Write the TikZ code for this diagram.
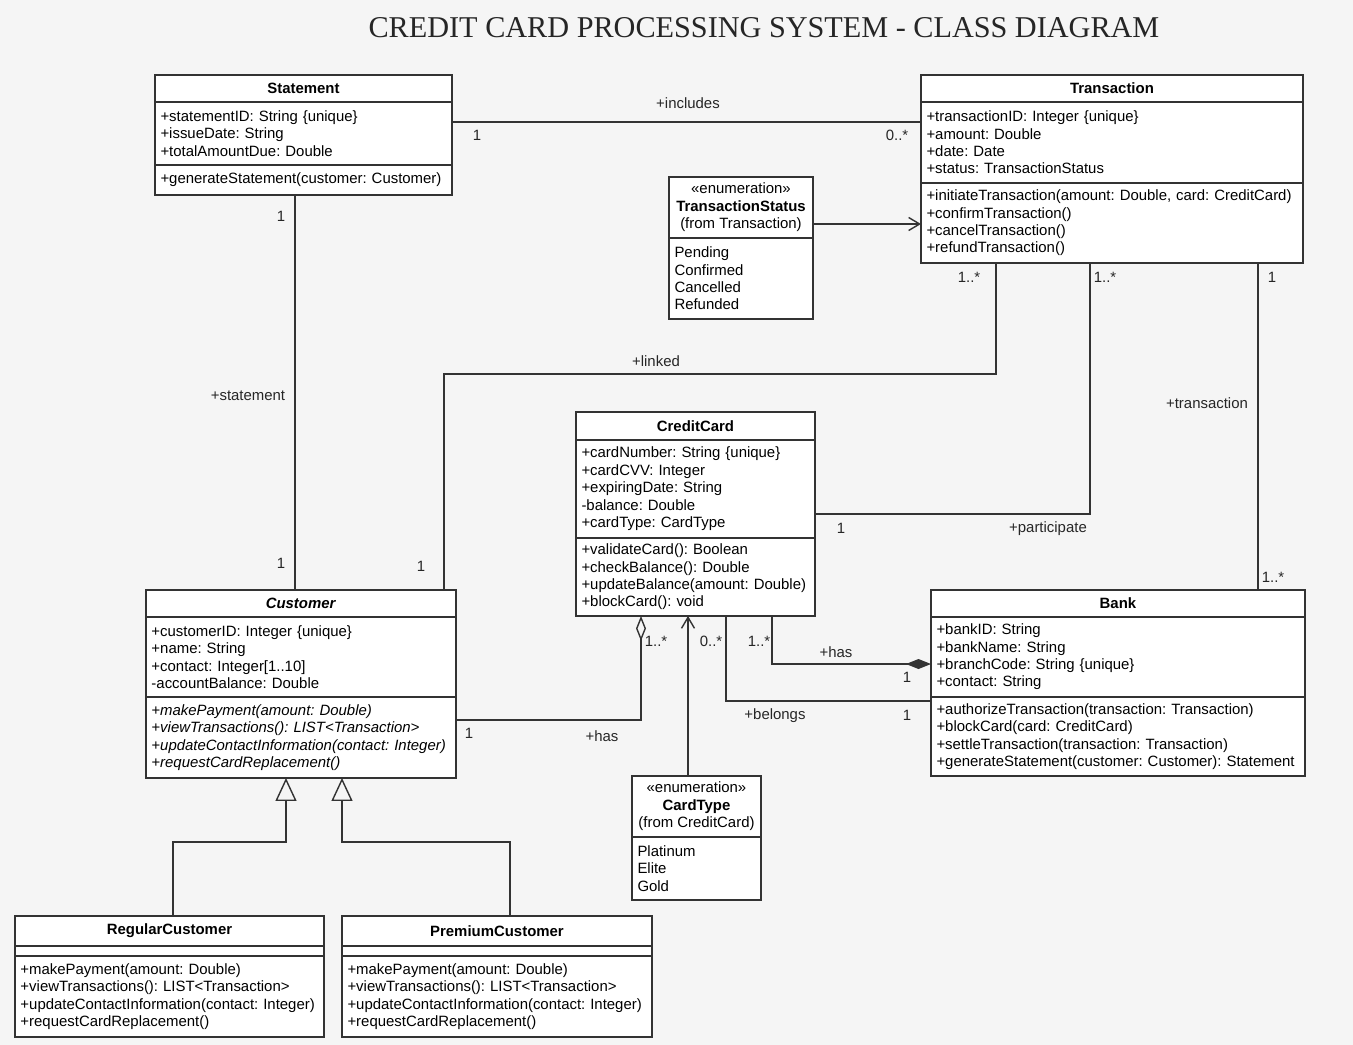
\documentclass[tikz,border=0pt]{standalone}
\usepackage{fontspec}
\setmainfont{Liberation Serif}
\setsansfont{Liberation Sans}
\usetikzlibrary{positioning, arrows.meta}
\frenchspacing
\hyphenpenalty=10000

\begin{document}
\begin{tikzpicture}[x=0.02cm, y=-0.02cm]

\tikzset{box/.style = {draw=black!80, line width=0.9pt, fill=white, inner sep=0, outer sep=0, font=\sffamily\fontsize{8.5}{9.92}\selectfont}}
\tikzset{head/.style = {box, align=center, anchor=north west}}
\tikzset{body/.style = {box, align=left, inner xsep=0.11cm}}
\tikzset{ital/.style = {font=\sffamily\itshape\fontsize{8.5}{9.92}\selectfont}}
\tikzset{lbl/.style = {font=\sffamily\fontsize{8.5}{9.92}\selectfont, inner sep=1pt, text=black!85}}
\tikzset{link/.style = {draw=black!80, line width=0.8pt}}
\tikzset{dep/.style = {-{Straight Barb[length=0.22cm, width=0.26cm]}}}
\tikzset{gen/.style = {-{Triangle[open, length=0.46cm, width=0.42cm]}}}
\tikzset{aggr/.style = {{Diamond[open, length=0.5cm, width=0.2cm]}-}}
\tikzset{comp/.style = {{Diamond[length=0.5cm, width=0.2cm]}-}}

\fill[black!4] (0,0) rectangle (1353,1045);
\useasboundingbox (0,0) rectangle (1353,1045);

\node[font=\rmfamily\fontsize{17.2}{20}\selectfont, text=black!85] (title) at (764,28) {CREDIT CARD PROCESSING SYSTEM - CLASS DIAGRAM};

%classes
\node[head, minimum width=5.94cm, minimum height=0.54cm] (stmt) at (155,75) {\textbf{Statement}};
\node[body, text width=5.72cm, minimum height=1.26cm, below=0pt of stmt] (stmtA) {+statementID: String \{unique\}\\+issueDate: String\\+totalAmountDue: Double};
\node[body, text width=5.72cm, minimum height=0.60cm, below=0pt of stmtA] (stmtO) {+generateStatement(customer: Customer)};

\node[head, minimum width=7.64cm, minimum height=0.54cm] (tr) at (921,75) {\textbf{Transaction}};
\node[body, text width=7.42cm, minimum height=1.62cm, below=0pt of tr] (trA) {+transactionID: Integer \{unique\}\\+amount: Double\\+date: Date\\+status: TransactionStatus};
\node[body, text width=7.42cm, minimum height=1.60cm, below=0pt of trA] (trO) {+initiateTransaction(amount: Double, card: CreditCard)\\+confirmTransaction()\\+cancelTransaction()\\+refundTransaction()};

\node[head, minimum width=4.78cm, minimum height=0.56cm] (cc) at (576,412) {\textbf{CreditCard}};
\node[body, text width=4.56cm, minimum height=1.96cm, below=0pt of cc] (ccA) {+cardNumber: String \{unique\}\\+cardCVV: Integer\\+expiringDate: String\\-balance: Double\\+cardType: CardType};
\node[body, text width=4.56cm, minimum height=1.56cm, below=0pt of ccA] (ccO) {+validateCard(): Boolean\\+checkBalance(): Double\\+updateBalance(amount: Double)\\+blockCard(): void};

\node[head, minimum width=6.20cm, minimum height=0.54cm] (cust) at (146,590) {\textbf{\itshape Customer}};
\node[body, text width=5.98cm, minimum height=1.60cm, below=0pt of cust] (custA) {+customerID: Integer \{unique\}\\+name: String\\+contact: Integer[1..10]\\-accountBalance: Double};
\node[body, ital, text width=5.98cm, minimum height=1.62cm, below=0pt of custA] (custO) {+makePayment(amount: Double)\\+viewTransactions(): LIST<Transaction>\\+updateContactInformation(contact: Integer)\\+requestCardReplacement()};

\node[head, minimum width=7.48cm, minimum height=0.54cm] (bank) at (931,590) {\textbf{Bank}};
\node[body, text width=7.26cm, minimum height=1.60cm, below=0pt of bank] (bankA) {+bankID: String\\+bankName: String\\+branchCode: String \{unique\}\\+contact: String};
\node[body, text width=7.26cm, minimum height=1.58cm, below=0pt of bankA] (bankO) {+authorizeTransaction(transaction: Transaction)\\+blockCard(card: CreditCard)\\+settleTransaction(transaction: Transaction)\\+generateStatement(customer: Customer): Statement};

\node[head, minimum width=6.18cm, minimum height=0.60cm] (reg) at (15,916) {\textbf{RegularCustomer}};
\node[box, minimum width=6.18cm, minimum height=0.20cm, below=0pt of reg] (regA) {};
\node[body, text width=5.96cm, minimum height=1.62cm, below=0pt of regA] (regO) {+makePayment(amount: Double)\\+viewTransactions(): LIST<Transaction>\\+updateContactInformation(contact: Integer)\\+requestCardReplacement()};

\node[head, minimum width=6.20cm, minimum height=0.60cm] (prem) at (342,916) {\textbf{PremiumCustomer}};
\node[box, minimum width=6.20cm, minimum height=0.20cm, below=0pt of prem] (premA) {};
\node[body, text width=5.98cm, minimum height=1.62cm, below=0pt of premA] (premO) {+makePayment(amount: Double)\\+viewTransactions(): LIST<Transaction>\\+updateContactInformation(contact: Integer)\\+requestCardReplacement()};

%enumerations
\node[head, minimum width=2.88cm, minimum height=1.22cm] (tsH) at (669,177) {«enumeration»\\\textbf{TransactionStatus}\\(from Transaction)};
\node[body, text width=2.66cm, minimum height=1.62cm, below=0pt of tsH] (tsV) {Pending\\Confirmed\\Cancelled\\Refunded};

\node[head, minimum width=2.58cm, minimum height=1.22cm] (ctH) at (632,776) {«enumeration»\\\textbf{CardType}\\(from CreditCard)};
\node[body, text width=2.36cm, minimum height=1.26cm, below=0pt of ctH] (ctV) {Platinum\\Elite\\Gold};

%associations
\draw[link] (stmtA.east |- 0,122) -- (trA.west |- 0,122);
\draw[link] (stmtO.south -| 295,0) -- (cust.north -| 295,0);
\draw[link] (trO.south -| 996,0) -- ++(0,111) -| (cust.north -| 444,0);
\draw[link] (trO.south -| 1090,0) |- (ccA.east |- 0,514);
\draw[link] (trO.south -| 1258,0) -- (bank.north -| 1258,0);
\draw[link, dep] (tsH.east |- 0,224) -- (trO.west |- 0,224);
\draw[link, aggr] (ccO.south -| 641,0) |- (custO.east |- 0,720);
\draw[link, dep] (ctH.north -| 688,0) -- (ccO.south -| 688,0);
\draw[link] (ccO.south -| 726,0) |- (bankO.west |- 0,701);
\draw[link, comp] (bankA.west |- 0,664) -| (ccO.south -| 772,0);
\draw[link, gen] (reg.north -| 173,0) -- ++(0,-74) -| (custO.south -| 286,0);
\draw[link, gen] (prem.north -| 510,0) -- ++(0,-74) -| (custO.south -| 342,0);

%labels
\node[lbl] (incl) at (688,103) {+includes};
\node[lbl] (inclA) at (477,135) {1};
\node[lbl] (inclB) at (897,135) {0..*};
\node[lbl] (stA) at (281,216) {1};
\node[lbl] (st) at (248,396) {+statement};
\node[lbl] (stB) at (281,563) {1};
\node[lbl] (lnA) at (969,277) {1..*};
\node[lbl] (ln) at (656,361) {+linked};
\node[lbl] (lnB) at (421,566) {1};
\node[lbl] (ptA) at (1105,277) {1..*};
\node[lbl] (ptB) at (841,528) {1};
\node[lbl] (pt) at (1048,529) {+participate};
\node[lbl] (txA) at (1272,277) {1};
\node[lbl] (tx) at (1207,403) {+transaction};
\node[lbl] (txB) at (1273,577) {1..*};
\node[lbl] (hsA) at (656,641) {1..*};
\node[lbl] (hsB) at (469,733) {1};
\node[lbl] (hs) at (602,736) {+has};
\node[lbl] (blA) at (711,641) {0..*};
\node[lbl] (bl) at (775,716) {+belongs};
\node[lbl] (blB) at (907,715) {1};
\node[lbl] (bhA) at (759,641) {1..*};
\node[lbl] (bh) at (836,652) {+has};
\node[lbl] (bhB) at (907,677) {1};

\end{tikzpicture}
\end{document}
